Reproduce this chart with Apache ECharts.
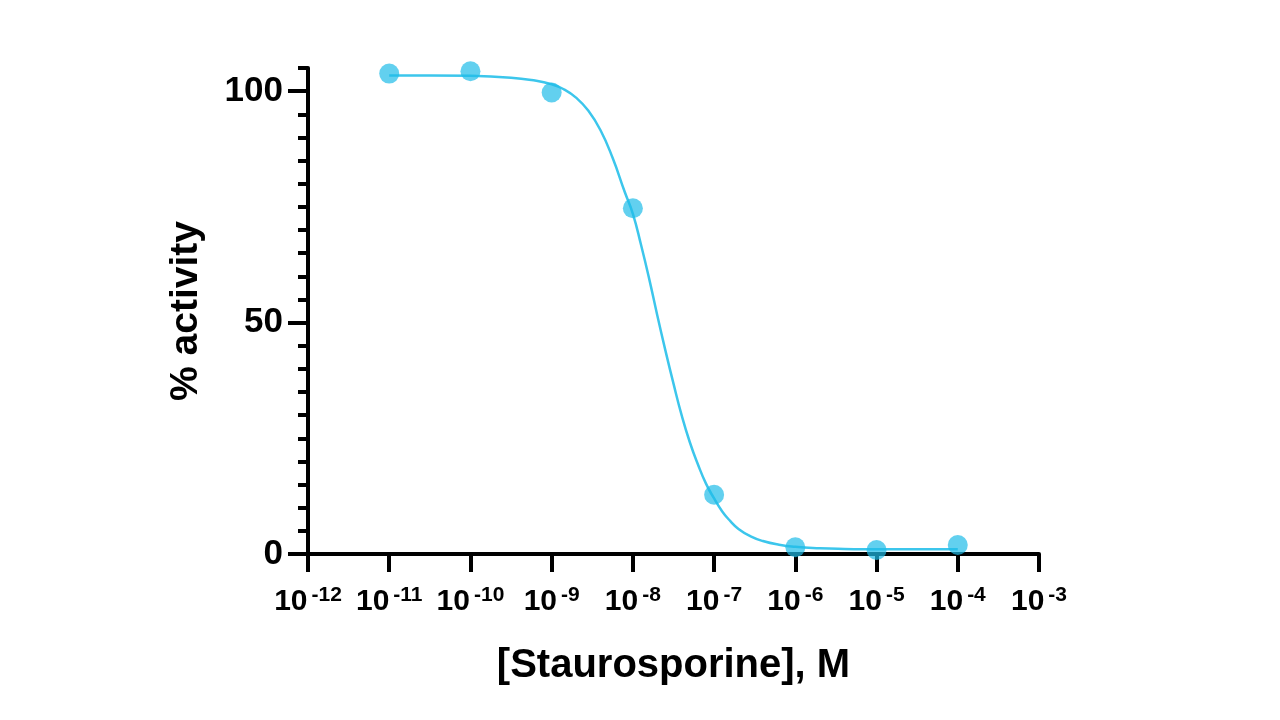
<!DOCTYPE html>
<html>
<head>
<meta charset="utf-8">
<script src="https://cdn.jsdelivr.net/npm/echarts@6/dist/echarts.min.js"></script>
<style>html,body{margin:0;padding:0;background:#fff}#c{width:1280px;height:720px}</style>
</head>
<body>
<div id="c"></div>
<script>
// Measured points: concentration exponent (10^x M) and % activity
const pointExps = [-11, -10, -9, -8, -7, -6, -5, -4];
const pointValues = [103.8, 104.3, 99.7, 74.7, 12.8, 1.45, 0.87, 1.95];

// Fitted curve: exponent and % activity
const curveExps = [-11, -10.5, -10, -9.5, -9.25, -9.0, -8.85, -8.7, -8.55, -8.4, -8.25, -8.1, -8.0, -7.9, -7.8, -7.7, -7.6, -7.5, -7.4, -7.3, -7.2, -7.1, -7.0, -6.9, -6.8, -6.7, -6.55, -6.4, -6.2, -6.0, -5.7, -5.4, -5.0, -4.5, -4.0];
const curveValues = [103.4, 103.4, 103.3, 102.9, 102.4, 101.5, 100.4, 98.6, 95.8, 91.6, 85.6, 78.2, 73.5, 66.8, 59.5, 51.6, 44.0, 36.8, 30.0, 24.2, 19.4, 15.2, 12.0, 9.2, 7.1, 5.4, 3.8, 2.8, 2.0, 1.55, 1.25, 1.1, 1.0, 1.0, 1.0];

// Axis ticks
const xTickExps = [-12, -11, -10, -9, -8, -7, -6, -5, -4, -3];
const yMajorTicks = [0, 50, 100];
const yMinorTicks = [0, 5, 10, 15, 20, 25, 30, 35, 40, 45, 50, 55, 60, 65, 70, 75, 80, 85, 90, 95, 100, 105];

const xTitle = '[Staurosporine], M';
const yTitle = '% activity';

const toConc = e => Math.pow(10, e);
const FONT = 'Liberation Sans, Arial, sans-serif';
const COLOR = '#3cc6ec';

const chart = echarts.init(document.getElementById('c'));
chart.setOption({
  animation: false,
  grid: { left: 308, right: 241, top: 68, bottom: 166, containLabel: false },
  xAxis: {
    type: 'log',
    logBase: 10,
    min: toConc(-12),
    max: toConc(-3),
    name: xTitle,
    nameLocation: 'middle',
    nameGap: 92,
    nameTextStyle: { fontFamily: FONT, fontWeight: 'bold', fontSize: 40, color: '#000' },
    axisLine: { show: true, lineStyle: { color: '#000', width: 4 } },
    axisTick: { show: true, length: 18, lineStyle: { color: '#000', width: 4 }, customValues: xTickExps.map(toConc) },
    axisLabel: {
      show: true,
      margin: 31,
      customValues: xTickExps.map(toConc),
      formatter: v => '{b|10}{s|' + Math.round(Math.log10(v)) + '}',
      rich: {
        b: { fontFamily: FONT, fontWeight: 'bold', fontSize: 30, color: '#000', lineHeight: 34 },
        s: { fontFamily: FONT, fontWeight: 'bold', fontSize: 21, color: '#000', verticalAlign: 'top', lineHeight: 24, padding: [0, 0, 0, 4] }
      }
    },
    splitLine: { show: false },
    minorTick: { show: false },
    minorSplitLine: { show: false }
  },
  yAxis: [
    {
      type: 'value', min: 0, max: 105, position: 'left',
      axisLine: { show: true, lineStyle: { color: '#000', width: 4 } },
      axisTick: { show: true, length: 10, lineStyle: { color: '#000', width: 4 }, customValues: yMinorTicks },
      axisLabel: { show: false },
      splitLine: { show: false }
    },
    {
      type: 'value', min: 0, max: 105, position: 'left',
      name: yTitle,
      nameLocation: 'middle',
      nameGap: 102,
      nameRotate: 90,
      nameTextStyle: { fontFamily: FONT, fontWeight: 'bold', fontSize: 39, color: '#000' },
      axisLine: { show: false },
      axisTick: { show: true, length: 20, lineStyle: { color: '#000', width: 4 }, customValues: yMajorTicks },
      axisLabel: { show: true, margin: 25, customValues: yMajorTicks, fontFamily: FONT, fontWeight: 'bold', fontSize: 35, color: '#000' },
      splitLine: { show: false }
    }
  ],
  series: [
    {
      type: 'line',
      yAxisIndex: 0,
      data: curveExps.map((e, i) => [toConc(e), curveValues[i]]),
      smooth: 0.5,
      showSymbol: false,
      symbol: 'none',
      lineStyle: { color: COLOR, width: 2.5 },
      z: 2
    },
    {
      type: 'scatter',
      yAxisIndex: 0,
      data: pointExps.map((e, i) => [toConc(e), pointValues[i]]),
      symbol: 'circle',
      symbolSize: 20,
      itemStyle: { color: 'rgba(32,188,232,0.88)' },
      z: 3
    }
  ]
});
</script>
</body>
</html>
